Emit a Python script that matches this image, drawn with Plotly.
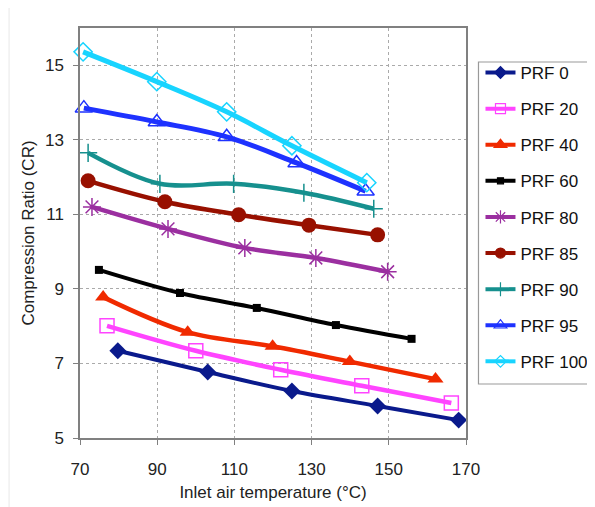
import plotly.graph_objects as go

# ---- data ----
series_names = ["PRF 0", "PRF 20", "PRF 40", "PRF 60", "PRF 80", "PRF 85", "PRF 90", "PRF 95", "PRF 100"]

x_prf0 = [79.8, 103.1, 124.9, 147.1, 168.1]
y_prf0 = [7.34, 6.77, 6.26, 5.86, 5.48]

x_prf20 = [77.0, 100.0, 122.0, 143.0, 166.2]
y_prf20 = [8.01, 7.34, 6.83, 6.40, 5.94]

x_prf40 = [76.0, 97.9, 119.9, 139.9, 162.1]
y_prf40 = [8.78, 7.84, 7.46, 7.05, 6.58]

x_prf60 = [74.9, 95.9, 115.8, 136.3, 155.9]
y_prf60 = [9.51, 8.89, 8.49, 8.03, 7.66]

x_prf80 = [73.1, 92.8, 112.7, 131.1, 149.7]
y_prf80 = [11.20, 10.61, 10.10, 9.83, 9.46]

x_prf85 = [72.1, 92.0, 111.1, 129.3, 147.1]
y_prf85 = [11.90, 11.34, 10.99, 10.71, 10.45]

x_prf90 = [72.1, 90.7, 109.8, 128.0, 146.1]
y_prf90 = [12.65, 11.82, 11.82, 11.58, 11.15]

x_prf95 = [71.0, 89.9, 108.0, 126.1, 144.0]
y_prf95 = [13.85, 13.48, 13.08, 12.38, 11.62]

x_prf100 = [70.8, 89.9, 108.0, 124.9, 144.3]
y_prf100 = [15.36, 14.56, 13.75, 12.84, 11.85]

x_ticks = [70, 90, 110, 130, 150, 170]
y_ticks = [5, 7, 9, 11, 13, 15]

xs = [x_prf0, x_prf20, x_prf40, x_prf60, x_prf80, x_prf85, x_prf90, x_prf95, x_prf100]
ys = [y_prf0, y_prf20, y_prf40, y_prf60, y_prf80, y_prf85, y_prf90, y_prf95, y_prf100]

# ---- styles ----
colors = ["#0A1A8C", "#FF44FF", "#F02A00", "#000000", "#9B2FA0", "#981000", "#16908E", "#1E32FF", "#18D4FF"]
symbols = ["diamond", "square-open", "triangle-up", "square", "asterisk-open", "circle",
           "cross-thin-open", "triangle-up-open", "diamond-open"]
sizes = [13, 14, 14, 8, 15, 15, 13, 15, 14]
leg_sizes = [9, 10, 11, 6, 11, 10, 10, 11, 9]
mlw = [0, 1.5, 0, 0, 1.5, 0, 1.5, 1.5, 1.5]
widths = [4, 4.5, 4.5, 4, 4.5, 4.5, 4.5, 5, 5]

FONT = "Liberation Sans, Arial, sans-serif"

fig = go.Figure()
for i, name in enumerate(series_names):
    fig.add_trace(go.Scatter(
        x=xs[i], y=ys[i], name=name, mode="lines+markers",
        legendgroup=name, showlegend=False,
        line=dict(color=colors[i], width=widths[i], shape="spline", smoothing=1.0),
        marker=dict(symbol=symbols[i], size=sizes[i], color=colors[i],
                    line=dict(color=colors[i], width=mlw[i])),
        cliponaxis=False,
    ))
# legend entries (smaller symbols, as in the reference legend)
for i, name in enumerate(series_names):
    fig.add_trace(go.Scatter(
        x=[None], y=[None], name=name, mode="lines+markers",
        legendgroup=name, showlegend=True,
        line=dict(color=colors[i], width=4),
        marker=dict(symbol=symbols[i], size=leg_sizes[i], color=colors[i],
                    line=dict(color=colors[i], width=1.2)),
    ))

W, H = 587, 499
L, T = 72, 20
PW, PH = 386.5, 410
R, B = W - L - PW, H - T - PH


def px(x):
    return (x - L) / PW


def py(y):
    return 1 - (y - T) / PH


fig.update_layout(
    width=W, height=H,
    margin=dict(l=L, r=R, t=T, b=B, autoexpand=False),
    paper_bgcolor="white", plot_bgcolor="white",
    font=dict(family=FONT, size=17, color="#222222"),
    showlegend=True,
    legend=dict(
        x=px(473), xanchor="left", y=py(47), yanchor="top",
        bgcolor="rgba(0,0,0,0)", borderwidth=0,
        font=dict(family=FONT, size=17, color="#111111"),
        tracegroupgap=11, itemwidth=30,
    ),
    xaxis=dict(
        range=[70, 170], tickvals=x_ticks, ticks="outside", ticklen=5, tickcolor="#808080",
        showline=True, linecolor="#808080", linewidth=1.5, mirror=True,
        showgrid=True, gridcolor="#AAAAAA", griddash="dot", gridwidth=1,
        zeroline=False, tickfont=dict(size=17), ticklabelstandoff=10,
        title=dict(text="Inlet air temperature (°C)", font=dict(size=17), standoff=8),
    ),
    yaxis=dict(
        range=[5, 16], tickvals=y_ticks, ticks="outside", ticklen=5, tickcolor="#808080",
        showline=True, linecolor="#808080", linewidth=1.5, mirror=True,
        showgrid=True, gridcolor="#AAAAAA", griddash="dot", gridwidth=1,
        zeroline=False, tickfont=dict(size=17), ticklabelstandoff=6,
        title=dict(text="Compression Ratio (CR)", font=dict(size=17), standoff=6),
    ),
    shapes=[
        dict(type="rect", xref="paper", yref="paper",
             x0=px(471), x1=px(581), y0=py(376), y1=py(54),
             line=dict(color="#999999", width=1.2), fillcolor="rgba(0,0,0,0)", layer="below"),
        dict(type="line", xref="paper", yref="paper",
             x0=px(1), x1=px(1), y0=py(H), y1=py(0),
             line=dict(color="#E8E8E8", width=1)),
    ],
)

fig.write_html("out.html")
